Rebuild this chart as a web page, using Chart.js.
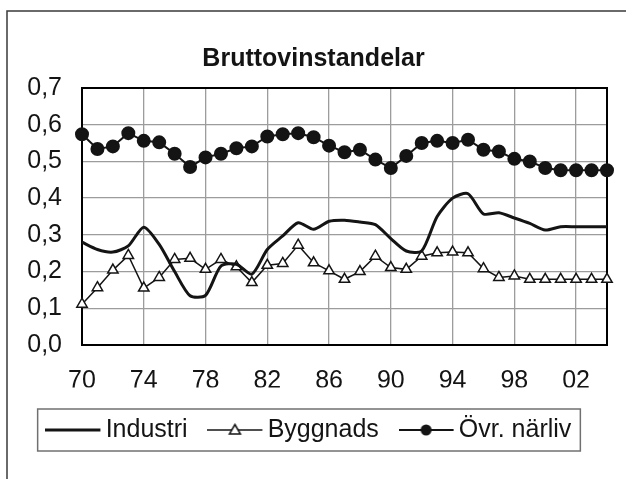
<!DOCTYPE html>
<html>
<head>
<meta charset="utf-8">
<script src="https://cdn.jsdelivr.net/npm/chart.js@4/dist/chart.umd.min.js"></script>
<style>
  html, body { margin: 0; padding: 0; background: #fff; }
  #wrap { width: 626px; height: 479px; }
</style>
</head>
<body>
<div id="wrap"><canvas id="myChart" width="626" height="479"></canvas></div>
<script>
// Aar 1970-2004, visas som tvaasiffriga etiketter
const years = ['70','71','72','73','74','75','76','77','78','79','80','81','82','83','84','85','86','87',
  '88','89','90','91','92','93','94','95','96','97','98','99','00','01','02','03','04'];

const industri = [0.28, 0.26, 0.253, 0.27, 0.321, 0.274, 0.20, 0.134, 0.135, 0.215, 0.22, 0.193,
  0.26, 0.297, 0.333, 0.315, 0.337, 0.34, 0.335, 0.328, 0.29, 0.256, 0.256, 0.35,
  0.40, 0.412, 0.357, 0.36, 0.346, 0.331, 0.313, 0.322, 0.322, 0.322, 0.322];

const byggnads = [0.111, 0.156, 0.204, 0.244, 0.155, 0.184, 0.233, 0.236, 0.206, 0.233, 0.213, 0.17,
  0.217, 0.222, 0.272, 0.224, 0.202, 0.179, 0.2, 0.242, 0.211, 0.206, 0.242, 0.251,
  0.253, 0.251, 0.208, 0.184, 0.188, 0.179, 0.179, 0.179, 0.179, 0.179, 0.179];

const ovrNarliv = [0.574, 0.534, 0.541, 0.577, 0.556, 0.552, 0.521, 0.485, 0.511, 0.521, 0.536, 0.541,
  0.568, 0.574, 0.577, 0.566, 0.543, 0.525, 0.532, 0.505, 0.482, 0.515, 0.55, 0.556,
  0.55, 0.559, 0.532, 0.527, 0.507, 0.5, 0.482, 0.476, 0.476, 0.476, 0.476];

const seriesNames = ['Industri', 'Byggnads', 'Övr. närliv'];
const yMin = 0, yMax = 0.7, yStep = 0.1;
const labelStep = 4; // var fjarde aar far etikett + gridlinje

const ink = '#141414';
Chart.defaults.font.family = "'Liberation Sans', Arial, sans-serif";
Chart.defaults.color = ink;

// legendsymbol: linje med markor i mitten, ritad i en liten canvas
function legendSymbol(kind) {
  const c = document.createElement('canvas');
  c.width = 58; c.height = 16;
  const g = c.getContext('2d');
  g.strokeStyle = ink;
  g.lineWidth = kind === 'line' ? 3 : (kind === 'tri' ? 1.5 : 2);
  g.beginPath(); g.moveTo(0, 8); g.lineTo(55, 8); g.stroke();
  if (kind === 'tri') {
    g.fillStyle = '#fff';
    g.lineWidth = 1.5;
    g.beginPath(); g.moveTo(27.5, 2.5); g.lineTo(33, 12); g.lineTo(22, 12); g.closePath();
    g.fill(); g.stroke();
  } else if (kind === 'dot') {
    g.fillStyle = ink;
    g.beginPath(); g.arc(27.5, 8, 5.5, 0, Math.PI * 2); g.fill();
  }
  return c;
}
const symbols = [legendSymbol('line'), legendSymbol('tri'), legendSymbol('dot')];

const frames = {
  id: 'frames',
  beforeDatasetsDraw(chart) {
    const {ctx, chartArea: a} = chart;
    ctx.save();
    ctx.strokeStyle = '#000';
    ctx.lineWidth = 2;
    ctx.strokeRect(a.left, a.top, a.right - a.left, a.bottom - a.top);
    ctx.restore();
  },
  afterDraw(chart) {
    const ctx = chart.ctx;
    ctx.save();
    // yttre ram (bara topp och vanster syns)
    ctx.strokeStyle = '#3a3a3a';
    ctx.lineWidth = 1.5;
    ctx.beginPath();
    ctx.moveTo(7, 479); ctx.lineTo(7, 11); ctx.lineTo(626, 11);
    ctx.stroke();
    // ram runt legenden
    const hb = chart.legend.legendHitBoxes;
    if (hb && hb.length) {
      const first = hb[0], last = hb[hb.length - 1];
      const x0 = first.left - 18;
      const x1 = last.left + last.width + 9;
      const yc = first.top + first.height / 2;
      ctx.strokeStyle = '#707070';
      ctx.lineWidth = 1.5;
      ctx.strokeRect(x0, yc - 21, x1 - x0, 42);
    }
    ctx.restore();
  }
};

const data = {
  labels: years,
  datasets: [{
    label: seriesNames[0],
    data: industri,
    borderColor: ink,
    borderWidth: 3,
    pointRadius: 0,
    tension: 0.25,
    fill: false
  }, {
    label: seriesNames[1],
    data: byggnads,
    borderColor: ink,
    borderWidth: 1.5,
    pointStyle: 'triangle',
    pointRadius: 6,
    pointBorderWidth: 1.5,
    pointBackgroundColor: '#fff',
    pointBorderColor: ink,
    tension: 0,
    fill: false
  }, {
    label: seriesNames[2],
    data: ovrNarliv,
    borderColor: ink,
    borderWidth: 2,
    pointStyle: 'circle',
    pointRadius: 6,
    pointBackgroundColor: ink,
    pointBorderColor: ink,
    tension: 0,
    fill: false
  }]
};

const options = {
  responsive: false,
  animation: false,
  devicePixelRatio: 1,
  layout: { padding: { left: 20, right: 19, top: 0, bottom: 26.5 } },
  scales: {
    x: {
      offset: false,
      grid: {
        color: '#9c9c9c',
        lineWidth: 1.3,
        drawTicks: false
      },
      border: { color: '#000', width: 2 },
      ticks: {
        autoSkip: false,
        maxRotation: 0,
        padding: 21,
        font: { size: 25 },
        color: ink,
        callback: (v, i) => (i % labelStep === 0 ? years[i] : null)
      },
      afterFit: (s) => { s.height = 42.5; }
    },
    y: {
      min: yMin,
      max: yMax,
      grid: {
        color: '#9c9c9c',
        lineWidth: 1.3,
        drawTicks: false
      },
      border: { color: '#000', width: 2 },
      ticks: {
        stepSize: yStep,
        padding: 20,
        font: { size: 25 },
        color: ink,
        callback: (v) => v.toFixed(1).replace('.', ',')
      },
      afterFit: (s) => { s.width = 62; }
    }
  },
  plugins: {
    title: {
      display: true,
      text: 'Bruttovinstandelar',
      color: ink,
      font: { size: 25, weight: 'bold' },
      padding: { top: 44, bottom: 14 }
    },
    legend: {
      position: 'bottom',
      labels: {
        usePointStyle: true,
        pointStyleWidth: 37.5,
        padding: 30,
        color: ink,
        font: { size: 25 },
        generateLabels: (chart) => {
          const items = Chart.defaults.plugins.legend.labels.generateLabels(chart);
          items.forEach((it, i) => { it.pointStyle = symbols[i]; });
          return items;
        }
      }
    },
    tooltip: { enabled: false }
  }
};

new Chart(document.getElementById('myChart'), {
  type: 'line',
  data: data,
  options: options,
  plugins: [frames]
});
</script>
</body>
</html>
